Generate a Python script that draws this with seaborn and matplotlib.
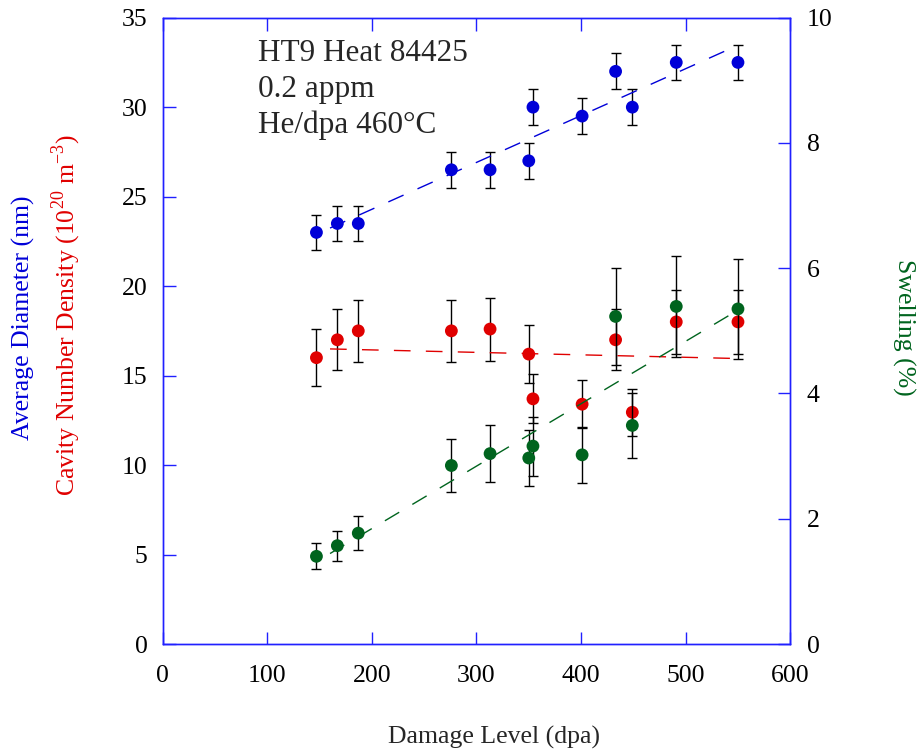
import numpy as np
import seaborn as sns
import matplotlib.pyplot as plt

# values
dpa = [147, 167, 187, 276, 313, 350, 354, 401, 433, 449, 491, 550]
diameter = [23.0, 23.5, 23.5, 26.5, 26.5, 27.0, 30.0, 29.5, 32.0, 30.0, 32.5, 32.5]
diameter_err = [1.0, 1.0, 1.0, 1.0, 1.0, 1.0, 1.0, 1.0, 1.0, 1.0, 1.0, 1.0]
density = [16.0, 17.0, 17.5, 17.5, 17.6, 16.2, 13.7, 13.4, 17.0, 12.95, 18.0, 18.0]
density_err = [1.6, 1.7, 1.75, 1.75, 1.76, 1.62, 1.37, 1.34, 1.7, 1.3, 1.8, 1.8]
swelling = [1.40, 1.57, 1.77, 2.85, 3.04, 2.97, 3.16, 3.02, 5.23, 3.49, 5.39, 5.35]
swelling_err = [0.21, 0.24, 0.27, 0.43, 0.46, 0.45, 0.47, 0.45, 0.78, 0.52, 0.81, 0.80]
fit_range = [160, 550]

blue = '#0000d8'
red = '#e00000'
green = '#00641e'
frame = '#2020ff'

sns.set_style('ticks')
plt.rcParams['font.family'] = ['Liberation Serif', 'DejaVu Serif']
plt.rcParams['mathtext.fontset'] = 'custom'
plt.rcParams['mathtext.rm'] = 'Liberation Serif'
fs = 18.5

fig = plt.figure(figsize=(9.17, 7.52), dpi=100)
ax = fig.add_axes([0.1774, 0.1436, 0.6844, 0.8329])
ax2 = ax.twinx()


def draw(axis, y, err, color):
    axis.errorbar(dpa, y, yerr=err, fmt='none', ecolor='black', elinewidth=1,
                  capsize=3.5, capthick=1, zorder=2)
    # least-squares trend line
    slope, icpt = np.polyfit(dpa, y, 1)
    fx = np.array(fit_range)
    sns.lineplot(x=fx, y=slope * fx + icpt, ax=axis, color=color, linewidth=1,
                 linestyle=(0, (12, 11)), zorder=3)
    sns.scatterplot(x=dpa, y=y, ax=axis, color=color, s=85, edgecolor='none',
                    zorder=4)


draw(ax, diameter, diameter_err, blue)
draw(ax, density, density_err, red)
draw(ax2, swelling, swelling_err, green)

ax.set_xlim(0, 600)
ax.set_ylim(0, 35)
ax2.set_ylim(0, 10)
ax.set_xticks(range(0, 601, 100))
ax.set_yticks(range(0, 36, 5))
ax2.set_yticks(range(0, 11, 2))

for a in (ax, ax2):
    for s in a.spines.values():
        s.set_color(frame)
        s.set_linewidth(1)
ax.tick_params(axis='both', direction='in', length=9, width=1, color=frame,
               labelsize=fs, labelcolor='black', top=True)
ax.tick_params(axis='x', pad=15)
ax.tick_params(axis='y', pad=11)
ax2.tick_params(axis='y', direction='in', length=9, width=1, color=frame,
                labelsize=fs, labelcolor='black', pad=12)

ax.text(0.152, 0.966, 'HT9 Heat 84425\n0.2 appm\nHe/dpa 460\u00b0C', transform=ax.transAxes,
        ha='left', va='top', fontsize=22.5, linespacing=1.3)

fig.text(0.539, 0.020, 'Damage Level (dpa)', ha='center', va='center', fontsize=fs)
fig.text(0.026, 0.578, 'Average Diameter (nm)', ha='center', va='center', rotation=90,
         fontsize=fs, color=blue)
fig.text(0.072, 0.5805, r'Cavity Number Density (10$^{20}$ m$^{-3}$)', ha='center',
         va='center', rotation=90, fontsize=fs, color=red)
fig.text(0.985, 0.564, 'Swelling (%)', ha='center', va='center', rotation=270,
         fontsize=fs, color=green)

plt.savefig('out.png', dpi=100)
